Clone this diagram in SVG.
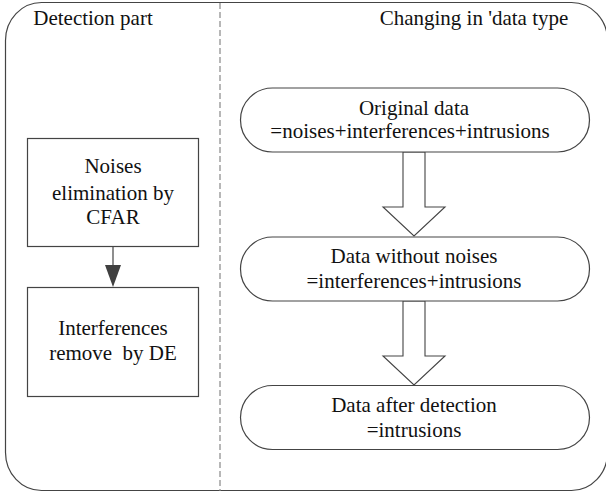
<svg xmlns="http://www.w3.org/2000/svg" width="606" height="492" viewBox="0 0 606 492">
<style>
text{font-family:'Liberation Serif','Times New Roman','DejaVu Serif',serif;font-size:21px;fill:#111;text-anchor:middle}
.frame{fill:none;stroke:#444;stroke-width:1.2}
.box{fill:#fff;stroke:#444;stroke-width:1.2}
.big{fill:#fff;stroke:#444;stroke-width:1.1}
.dash{stroke:#888;stroke-width:1.2;stroke-dasharray:6,3;fill:none}
</style>
<rect class="frame" x="5.5" y="2.5" width="602" height="488" rx="36" ry="38"/>
<line class="dash" x1="220" y1="3" x2="220" y2="491"/>
<g font-family="Liberation Serif, Times New Roman, serif">
<text x="93" y="25">Detection part</text>
<text x="474" y="25">Changing in 'data type</text>
</g>
<g id="connectors">
<line x1="113" y1="246" x2="113" y2="267" stroke="#444" stroke-width="1.2"/>
<polygon points="105,265 121,265 113,287" fill="#404040"/>
<polygon class="big" points="403,152 425,152 425,207 445,207 414,236 383,207 403,207"/>
<polygon class="big" points="403,301 425,301 425,356 445,356 414,385 383,356 403,356"/>
</g>
<g id="n1" font-family="Liberation Serif, Times New Roman, serif">
<rect class="box" x="27.5" y="138.5" width="171" height="108"/>
<text x="113" y="173">Noises</text>
<text x="113" y="200">elimination by</text>
<text x="113" y="224">CFAR</text>
</g>
<g id="n2" font-family="Liberation Serif, Times New Roman, serif">
<rect class="box" x="27.5" y="287.5" width="171" height="109"/>
<text x="113" y="335">Interferences</text>
<text x="113" y="360">remove&#160; by DE</text>
</g>
<g id="p1" font-family="Liberation Serif, Times New Roman, serif">
<rect class="box" x="240.5" y="88" width="349" height="64" rx="32"/>
<text x="414" y="115">Original data</text>
<text x="410" y="138">=noises+interferences+intrusions</text>
</g>
<g id="p2" font-family="Liberation Serif, Times New Roman, serif">
<rect class="box" x="240.5" y="237" width="349" height="64" rx="32"/>
<text x="414" y="263">Data without noises</text>
<text x="414" y="288">=interferences+intrusions</text>
</g>
<g id="p3" font-family="Liberation Serif, Times New Roman, serif">
<rect class="box" x="240.5" y="385.5" width="349" height="64" rx="32"/>
<text x="414" y="412">Data after detection</text>
<text x="414" y="437">=intrusions</text>
</g>
</svg>
